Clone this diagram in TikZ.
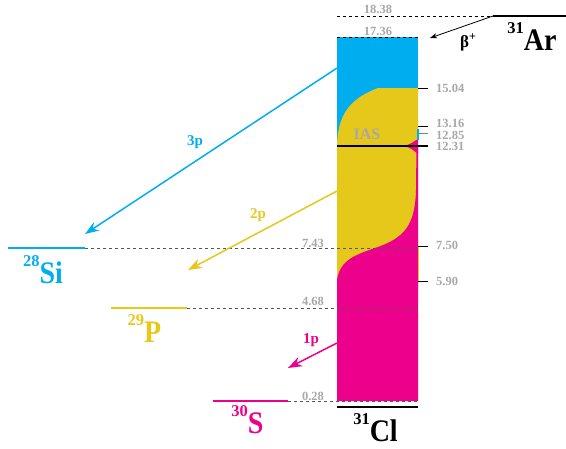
\documentclass[tikz,border=0pt]{standalone}
\usepackage{fontspec}
\setmainfont{Liberation Serif}
\usetikzlibrary{arrows.meta}
\definecolor{cblue}{HTML}{00AEEF}
\definecolor{cyel}{HTML}{E6C81B}
\definecolor{cmag}{HTML}{EC008C}
\definecolor{cgray}{HTML}{A8A8A8}
\definecolor{dgray}{HTML}{555555}
\tikzset{
  num/.style={text=cgray,font=\bfseries\fontsize{12.5}{12.5}\selectfont,inner sep=0pt},
  rnum/.style={num,anchor=west},
  iso/.style={font=\bfseries,inner sep=0pt,anchor=base},
  plab/.style={font=\bfseries\fontsize{15}{15}\selectfont,inner sep=0pt},
  lev/.style={line width=2.4pt},
  dlev/.style={dash pattern=on 3pt off 3pt,line width=0.8pt},
  tick/.style={line width=1pt},
  parr/.style={line width=1.5pt,-{Stealth[length=14pt,width=10pt,inset=4.5pt]}},
}
\newcommand{\isolab}[2]{\raisebox{17pt}{\fontsize{16.5}{16.5}\selectfont #1}\scalebox{1}[1.12]{\fontsize{28}{28}\selectfont #2}}
\begin{document}
\begin{tikzpicture}[x=1pt,y=-1pt]
\useasboundingbox (0,0) rectangle (566,448);
% column fills
\fill[cblue] (337,37) rectangle (418,401);
\fill[cyel] (418,88) -- (378,88) .. controls (352,98) and (338,112) .. (337,145) -- (337,401) -- (418,401) -- cycle;
\fill[cmag] (337,401) -- (337,280) .. controls (340,260) and (355,255) .. (375,248) .. controls (405,238) and (415,225) .. (416,190) -- (416.5,146) -- (418,146) -- (418,401) -- cycle;
\fill[cmag] (402,146) .. controls (410,145.5) and (414,141) .. (418,139) -- (418,154) .. controls (414,151) and (410,146.5) .. (402,146);
\fill[cblue] (417,129) rectangle (418.5,140);
\draw[cyel,line width=1pt] (418.5,246) -- (418.5,281);
% coordinates for levels
\coordinate (colTL) at (337,37);
\coordinate (colTR) at (418,37);
\coordinate (ar1) at (337,16);
\coordinate (ar2) at (493,16);
\coordinate (ar3) at (566,16);
\coordinate (cl1) at (337,407);
\coordinate (cl2) at (418,407);
\coordinate (si1) at (8,248);
\coordinate (si2) at (85,248);
\coordinate (siR) at (418,248);
\coordinate (p1) at (111,308);
\coordinate (p2) at (187,308);
\coordinate (pR) at (418,308);
\coordinate (s1) at (213,401);
\coordinate (s2) at (288,401);
\coordinate (sR) at (418,401);
% dashed lines
\draw[dlev,black] (colTL) -- (colTR);
\draw[dlev,black] (ar1) -- (ar2);
\draw[dlev,dgray] (si2) -- (siR);
\draw[dlev,dgray] (p2) -- (pR);
\draw[dlev,dgray] (s2) -- (sR);
% levels
\draw[lev,black] (ar2) -- (ar3);
\draw[lev,black] (cl1) -- (cl2);
\draw[lev,cblue] (si1) -- (si2);
\draw[lev,cyel] (p1) -- (p2);
\draw[lev,cmag] (s1) -- (s2);
% IAS line and ticks
\coordinate (ias1) at (337,146);
\coordinate (ias2) at (428,146);
\draw[line width=1.3pt,black] (ias1) -- (ias2);
\foreach \yy/\cc in {88/black,126/black,133/gray,246/black,281/black}{
  \draw[tick,\cc] (418,\yy) -- (428,\yy);
}
% numbers
\node[num] (n1838) at (378,9.5) {18.38};
\node[num] (n1736) at (378,31) {17.36};
\node[num] (n743) at (313,243.5) {7.43};
\node[num] (n468) at (313,301.5) {4.68};
\node[num] (n028) at (313,396) {0.28};
\node[rnum] (n1504) at (436,88) {15.04};
\node[rnum] (n1316) at (436,123.5) {13.16};
\node[rnum] (n1285) at (436,135) {12.85};
\node[rnum] (n1231) at (436,146.5) {12.31};
\node[rnum] (n750) at (436,245) {7.50};
\node[rnum] (n590) at (436,281) {5.90};
\node[text=cgray,font=\bfseries\fontsize{16}{16}\selectfont,inner sep=0pt] (ias) at (367,134.5) {IAS};
% isotope labels
\node[iso] (Ar) at (532,50) {\isolab{31}{Ar}};
\node[iso] (Cl) at (375.5,441) {\isolab{31}{Cl}};
\node[iso,text=cblue] (Si) at (43,283) {\isolab{28}{Si}};
\node[iso,text=cyel] (P) at (144.5,342) {\isolab{29}{P}};
\node[iso,text=cmag] (S) at (247.5,433) {\isolab{30}{S}};
% beta arrow
\coordinate (bend) at (430,38);
\draw[line width=0.8pt,-{Stealth[length=7pt,width=5pt,inset=2pt]}] (ar2) -- (bend);
\node[font=\bfseries\fontsize{17}{17}\selectfont,inner sep=0pt,anchor=base] (beta) at (468,47) {β\raisebox{7pt}{\fontsize{12}{12}\selectfont +}};
% particle arrows
\coordinate (a3s) at (337,68);
\coordinate (a3e) at (85,234);
\coordinate (a2s) at (337,191);
\coordinate (a2e) at (188,270);
\coordinate (a1s) at (337,343);
\coordinate (a1e) at (288,368);
\draw[parr,cblue] (a3s) -- (a3e);
\draw[parr,cyel] (a2s) -- (a2e);
\draw[parr,cmag] (a1s) -- (a1e);
\node[plab,text=cblue] (l3p) at (195,142) {3p};
\node[plab,text=cyel] (l2p) at (258,215) {2p};
\node[plab,text=cmag] (l1p) at (311,340) {1p};
\end{tikzpicture}
\end{document}
